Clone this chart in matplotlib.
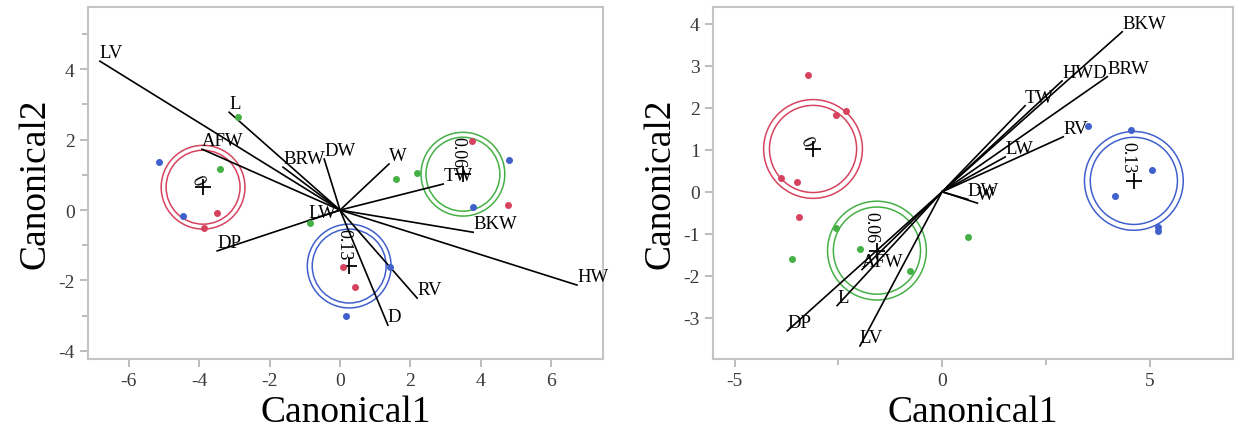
import matplotlib
matplotlib.use("Agg")
import matplotlib.pyplot as plt
from matplotlib.patches import Ellipse
from matplotlib.ticker import MultipleLocator

plt.rcParams["font.family"] = ["Liberation Serif", "DejaVu Serif"]
plt.rcParams["axes.unicode_minus"] = False

RED, GREEN, BLUE = "#d6435f", "#45b045", "#4060cc"

# ---- left panel data ----
L_VEC_NAMES = ["LV", "L", "AFW", "BRW", "DW", "W", "TW", "BKW", "HW", "RV", "D", "DP", "LW"]
L_VEC_X = [-6.82, -3.15, -3.92, -1.62, -0.45, 1.39, 2.93, 3.78, 6.73, 2.19, 1.36, -3.49, -0.9]
L_VEC_Y = [4.23, 2.78, 1.73, 1.22, 1.45, 1.31, 0.74, -0.63, -2.13, -2.50, -3.27, -1.16, -0.3]

L_RED_X = [-3.49, -3.86, 0.09, 0.43, 4.77, 3.75]
L_RED_Y = [-0.09, -0.51, -1.62, -2.19, 0.14, 1.96]
L_BLUE_X = [-5.14, -4.46, 4.80, 3.78, 0.17, 1.42]
L_BLUE_Y = [1.36, -0.17, 1.42, 0.09, -3.01, -1.62]
L_GREEN_X = [-3.41, -2.90, 1.59, 2.19, -0.85]
L_GREEN_Y = [1.16, 2.64, 0.88, 1.05, -0.37]

L_GROUPS = ["0", "0.06", "0.13"]
L_CENT_X = [-3.89, 3.49, 0.26]
L_CENT_Y = [0.65, 1.02, -1.59]

# ---- right panel data ----
R_VEC_NAMES = ["BKW", "BRW", "HWD", "TW", "RV", "LW", "DW", "W", "DP", "L", "LV", "AFW"]
R_VEC_X = [4.34, 3.98, 2.89, 2.00, 2.92, 1.52, 0.62, 0.85, -3.73, -2.53, -1.98, -1.93]
R_VEC_Y = [3.81, 2.74, 2.64, 2.05, 1.31, 0.83, -0.18, -0.27, -3.31, -2.71, -3.67, -1.85]

R_RED_X = [-3.23, -2.55, -2.31, -3.88, -3.49, -3.45]
R_RED_Y = [2.79, 1.83, 1.93, 0.33, 0.24, -0.60]
R_GREEN_X = [-3.61, -2.55, -1.98, -0.77, 0.63]
R_GREEN_Y = [-1.60, -0.86, -1.36, -1.88, -1.07]
R_BLUE_X = [4.55, 5.06, 4.17, 5.20, 5.20, 3.52]
R_BLUE_Y = [1.48, 0.52, -0.10, -0.93, -0.83, 1.57]

R_GROUPS = ["0", "0.06", "0.13"]
R_CENT_X = [-3.11, -1.57, 4.62]
R_CENT_Y = [1.02, -1.40, 0.26]

R_INNER, R_OUTER = 1.05, 1.19
GROUP_COLORS = [RED, GREEN, BLUE]
GROUP_ROT = [-65, -90, -90]


def draw_panel(ax, names, vx, vy, reds, greens, blues, groups, cx, cy, rx, ry):
    for nm, x, y in zip(names, vx, vy):
        ax.plot([0, x], [0, y], color="black", lw=1.2, zorder=3)
        ax.text(x, y, nm, ha="left", va="bottom", fontsize=13.5, zorder=4)
    for (xs, ys), c in zip([reds, greens, blues], [RED, GREEN, BLUE]):
        ax.plot(xs, ys, "o", ms=4, color=c, zorder=5, lw=0)
    for g, x, y, c, rot in zip(groups, cx, cy, GROUP_COLORS, GROUP_ROT):
        for r in (R_INNER, R_OUTER):
            ax.add_patch(Ellipse((x, y), 2 * r * rx, 2 * r * ry, fill=False,
                                 ec=c, lw=1.1, zorder=2))
        ax.plot(x, y, "+", color="black", ms=11, mew=1.3, zorder=4)
        if g == "0":
            ax.text(x - 0.15 * rx, y + 0.2 * ry, g, rotation=rot, fontsize=13,
                    ha="center", va="center", zorder=4)
        else:
            ax.text(x - 0.15 * rx, y + 0.2 * ry, g, rotation=rot, fontsize=13,
                    ha="center", va="bottom", zorder=4)


def style(ax):
    for s in ax.spines.values():
        s.set_color("#c4c4c4")
        s.set_linewidth(1.5)
    ax.tick_params(which="both", direction="out", colors="#b0b0b0",
                   labelcolor="#3a3a3a", labelsize=14, width=1.2)
    ax.tick_params(which="major", length=6)
    ax.tick_params(which="minor", length=4)
    ax.set_xlabel("Canonical1", fontsize=27, labelpad=4)
    ax.set_ylabel("Canonical2", fontsize=27, labelpad=4)


fig = plt.figure(figsize=(12.37, 4.39), dpi=100)
ax1 = fig.add_axes([0.0711, 0.18, 0.4164, 0.8018])
ax2 = fig.add_axes([0.5764, 0.18, 0.4204, 0.8018])

ax1.set_xlim(-7.16, 7.47)
ax1.set_ylim(-4.23, 5.77)
ax1.xaxis.set_major_locator(MultipleLocator(2))
ax1.yaxis.set_major_locator(MultipleLocator(2))
ax1.yaxis.set_minor_locator(MultipleLocator(1))
draw_panel(ax1, L_VEC_NAMES, L_VEC_X, L_VEC_Y,
           (L_RED_X, L_RED_Y), (L_GREEN_X, L_GREEN_Y), (L_BLUE_X, L_BLUE_Y),
           L_GROUPS, L_CENT_X, L_CENT_Y, 1.0, 1.0)
style(ax1)

ax2.set_xlim(-5.52, 7.01)
ax2.set_ylim(-3.98, 4.40)
ax2.xaxis.set_major_locator(MultipleLocator(5))
ax2.xaxis.set_minor_locator(MultipleLocator(2.5))
ax2.yaxis.set_major_locator(MultipleLocator(1))
draw_panel(ax2, R_VEC_NAMES, R_VEC_X, R_VEC_Y,
           (R_RED_X, R_RED_Y), (R_GREEN_X, R_GREEN_Y), (R_BLUE_X, R_BLUE_Y),
           R_GROUPS, R_CENT_X, R_CENT_Y, 1.0, 41.5 / 42.0)
style(ax2)

fig.savefig("out.png", dpi=100)
